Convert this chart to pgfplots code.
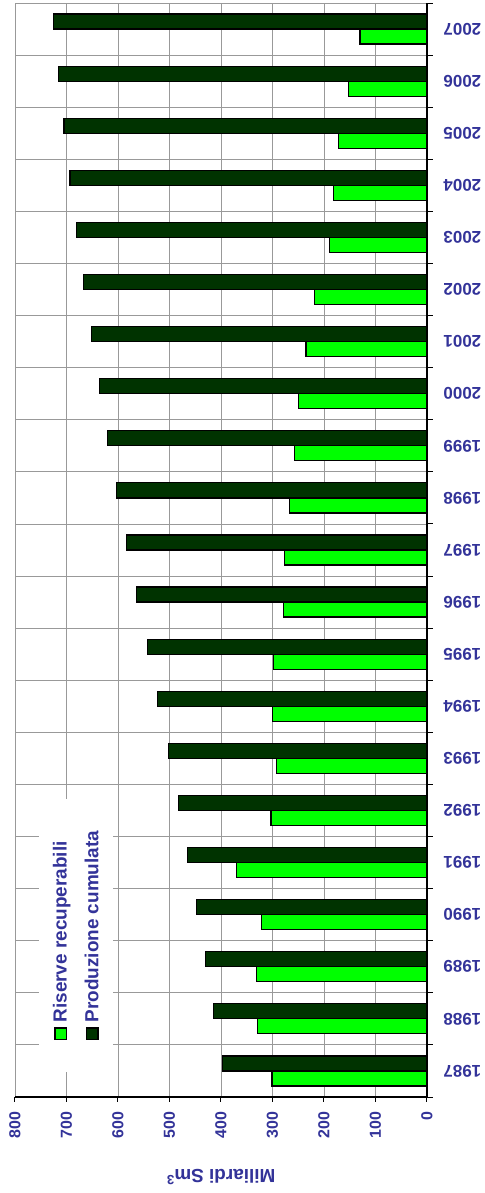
\documentclass[border=0pt]{standalone}
\usepackage{pgfplots}
\pgfplotsset{compat=1.18}
\usepackage{fontspec}
\setmainfont{Liberation Sans}
\definecolor{txt}{HTML}{333399}
\definecolor{prod}{HTML}{003300}
\definecolor{ris}{HTML}{00FF00}
\definecolor{grd}{HTML}{999999}

% small square for the hand-set legend
\newcommand{\legbox}[1]{{\setlength{\fboxsep}{0pt}\setlength{\fboxrule}{1.2bp}%
  \raisebox{1bp}{\fcolorbox{black}{#1}{\rule{0pt}{10bp}\hspace{10bp}}}}}

\begin{document}
\begin{tikzpicture}
\begin{axis}[
    xbar,
    scale only axis,
    width=412bp, height=1094bp,
    xmin=0, xmax=800, x dir=reverse,
    ymin=1986.5, ymax=2007.5,
    xtick={0,100,...,800},
    ytick={1987,...,2007},
    minor ytick={1986.5,1987.5,...,2007.5},
    axis x line*=bottom,
    axis y line*=right,
    axis line style={black, line width=1.2bp},
    xmajorgrids, yminorgrids,
    grid style={grd, line width=0.9bp},
    tick align=outside,
    major tick length=5bp, minor tick length=6bp,
    tick style={black, line width=1bp},
    major y tick style={draw=none},
    /pgf/number format/assume math mode=true,
    /pgf/number format/1000 sep={},
    xticklabel style={rotate=90, anchor=east, font=\bfseries\fontsize{16}{18}\selectfont, text=txt},
    xticklabel shift=6bp,
    yticklabel style={rotate=180, anchor=east, font=\bfseries\fontsize{17}{19}\selectfont, text=txt},
    yticklabel pos=right,
    yticklabel shift=8bp,
    xlabel={Miliardi Sm\textsuperscript{3}},
    xlabel style={at={(axis description cs:0.5,-0.073)}, anchor=center, rotate=180,
                  font=\bfseries\fontsize{19}{22}\selectfont, text=txt},
]
\addplot[fill=ris, draw=black, line width=1.2bp, bar width=15bp, bar shift=-7.5bp] coordinates {
    (301,1987) (329,1988) (331,1989) (322,1990) (370,1991) (303,1992) (293,1993)
    (300,1994) (298,1995) (279,1996) (276,1997) (267,1998) (258,1999) (250,2000)
    (235,2001) (219,2002) (190,2003) (182,2004) (172,2005) (153,2006) (130,2007)
};
\addplot[fill=prod, draw=black, line width=1.2bp, bar width=15bp, bar shift=7.5bp] coordinates {
    (397,1987) (414,1988) (430,1989) (447,1990) (465,1991) (483,1992) (502,1993)
    (523,1994) (543,1995) (564,1996) (583,1997) (603,1998) (620,1999) (636,2000)
    (651,2001) (667,2002) (680,2003) (693,2004) (705,2005) (716,2006) (725,2007)
};
\coordinate (ll) at (axis description cs:0,0);
\coordinate (ur) at (axis description cs:1,1);
\end{axis}
% legend, turned like the rest of the chart
\node[rotate=90, anchor=north west, fill=white, inner xsep=32bp, inner ysep=5bp,
      font=\bfseries\fontsize{19}{32}\selectfont, text=txt]
  at ([xshift=24bp,yshift=25bp]ll)
  {\begin{tabular}{@{}l@{\hspace{5bp}}l@{}}
    \legbox{ris} & Riserve recuperabili\\
    \legbox{prod} & Produzione cumulata
  \end{tabular}};
\pgfresetboundingbox
\path[use as bounding box] ([xshift=-15bp,yshift=-96bp]ll) rectangle ([xshift=58bp,yshift=3bp]ur);
\end{tikzpicture}
\end{document}
